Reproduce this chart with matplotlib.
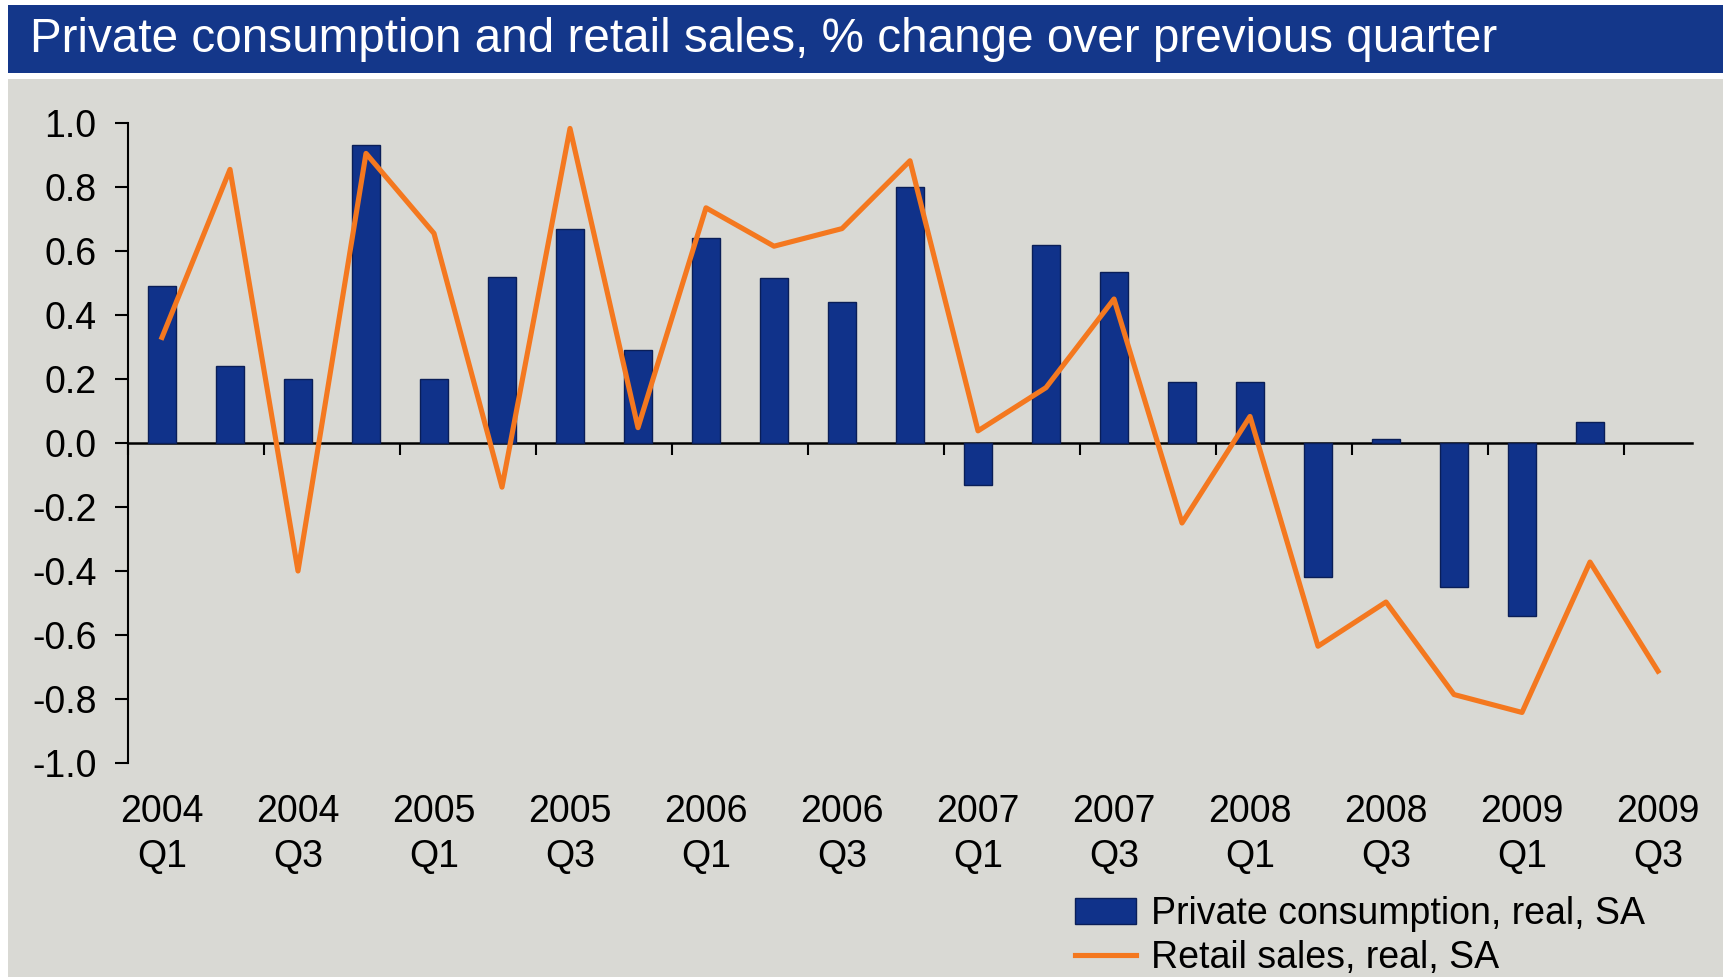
import matplotlib.pyplot as plt
import matplotlib.patches as mpatches
import numpy as np

plt.rcParams['font.family'] = ['Liberation Sans', 'DejaVu Sans']

# quarters 2004Q1 .. 2009Q3
quarters = ['2004\nQ1', '2004\nQ2', '2004\nQ3', '2004\nQ4',
            '2005\nQ1', '2005\nQ2', '2005\nQ3', '2005\nQ4',
            '2006\nQ1', '2006\nQ2', '2006\nQ3', '2006\nQ4',
            '2007\nQ1', '2007\nQ2', '2007\nQ3', '2007\nQ4',
            '2008\nQ1', '2008\nQ2', '2008\nQ3', '2008\nQ4',
            '2009\nQ1', '2009\nQ2', '2009\nQ3']

# private consumption, real, SA (no value for 2009 Q3)
consumption = [0.49, 0.24, 0.20, 0.93, 0.20, 0.52, 0.67, 0.29,
               0.64, 0.515, 0.44, 0.80, -0.13, 0.62, 0.535, 0.19,
               0.19, -0.42, 0.014, -0.45, -0.54, 0.066, np.nan]

# retail sales, real, SA
retail = [0.33, 0.855, -0.40, 0.905, 0.655, -0.138, 0.983, 0.048,
          0.735, 0.615, 0.67, 0.882, 0.038, 0.173, 0.45, -0.25,
          0.083, -0.635, -0.497, -0.786, -0.842, -0.372, -0.713]

y_ticks = [-1.0, -0.8, -0.6, -0.4, -0.2, 0.0, 0.2, 0.4, 0.6, 0.8, 1.0]
y_labels = ['-1.0', '-0.8', '-0.6', '-0.4', '-0.2', '0.0', '0.2', '0.4', '0.6', '0.8', '1.0']

title = 'Private consumption and retail sales, % change over previous quarter'

navy = '#10328a'
orange = '#f4781f'
bg = '#d9d9d4'

fig = plt.figure(figsize=(17.24, 9.77), dpi=100, facecolor='white')

# grey panel and blue title bar
fig.patches.append(mpatches.Rectangle((8 / 1724, 0), 1, (977 - 79) / 977,
                                      transform=fig.transFigure, facecolor=bg,
                                      edgecolor='none', zorder=-2))
fig.patches.append(mpatches.Rectangle((8 / 1724, 1 - 73 / 977), 1, 68 / 977,
                                      transform=fig.transFigure, facecolor='#14378a',
                                      edgecolor='none', zorder=-2))
fig.text(30 / 1724, 1 - 40 / 977, title, color='white', fontsize=34.3,
         ha='left', va='center')

ax = fig.add_axes([128 / 1724, 1 - 763 / 977, (1692 - 128) / 1724, (763 - 123) / 977])
ax.set_facecolor('none')
ax.set_zorder(1)

x = np.arange(len(quarters))
bars = ax.bar(x, consumption, width=0.41, color=navy, edgecolor='#0a1e58', linewidth=1,
              label='Private consumption, real, SA', zorder=2)
line, = ax.plot(x, retail, color=orange, linewidth=3.7, label='Retail sales, real, SA', zorder=3)

ax.set_xlim(-0.5, len(quarters) - 0.5)
ax.set_ylim(-1.0, 1.0)
ax.set_yticks(y_ticks)
ax.set_yticklabels(y_labels)
ax.tick_params(axis='y', direction='out', length=9.5, width=1.5, pad=13, labelsize=27)

# labels at bottom, every second quarter
ax.set_xticks(x[::2])
ax.set_xticklabels(quarters[::2], linespacing=1.33)
ax.tick_params(axis='x', length=0, pad=22, labelsize=27)

for s in ['top', 'right', 'bottom']:
    ax.spines[s].set_visible(False)
ax.spines['left'].set_linewidth(1.5)

# zero line with tick marks between every two quarters
sec = ax.secondary_xaxis(0.5)
sec.set_alignment('bottom')
sec.set_xticks(np.arange(-0.5, len(quarters) - 1, 2))
sec.tick_params(axis='x', direction='out', length=8.5, width=1.5, labelbottom=False)
sec.spines['bottom'].set_linewidth(1.8)

fig.legend([bars, line], ['Private consumption, real, SA', 'Retail sales, real, SA'],
           loc='upper left', bbox_to_anchor=(1075 / 1724, 1 - 896 / 977),
           frameon=False, fontsize=27, handlelength=1.63, handletextpad=0.4,
           labelspacing=0.21, borderpad=0, borderaxespad=0)

fig.savefig('out.png', dpi=100, facecolor='white')
